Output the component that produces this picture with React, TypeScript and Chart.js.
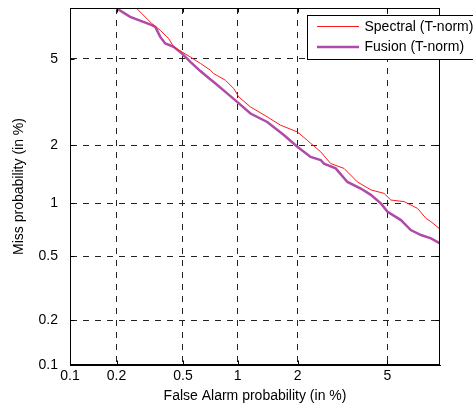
import React, { useEffect, useRef } from 'react';
import { Chart, registerables, Scale } from 'chart.js';

// ---- data (percent) ----
const TICK_VALUES = [0.1, 0.2, 0.5, 1, 2, 5];
const AXIS_MIN = 0.1;
const AXIS_MAX = 8;

const spectralFA = [0.26, 0.267, 0.329, 0.369, 0.413, 0.442, 0.494, 0.551, 0.627, 0.713, 0.743, 0.86, 0.953, 1.013, 1.166, 1.419, 1.653, 1.994, 2.225, 2.306, 2.567, 2.852, 3.271, 3.745, 4.27, 4.85, 5.165, 5.84, 6.59, 7.09, 7.41, 7.95, 8.2];
const spectralMiss = [8.1, 7.96, 6.96, 6.55, 6.07, 5.61, 5.34, 5.09, 4.78, 4.47, 4.32, 4.04, 3.71, 3.40, 3.06, 2.75, 2.51, 2.33, 2.12, 2.05, 1.86, 1.62, 1.53, 1.30, 1.18, 1.13, 1.04, 1.02, 0.936, 0.824, 0.789, 0.723, 0.71];

const fusionFA = [0.196, 0.201, 0.243, 0.329, 0.345, 0.369, 0.395, 0.442, 0.494, 0.551, 0.627, 0.70, 0.743, 0.86, 0.993, 1.166, 1.419, 1.716, 1.994, 2.306, 2.567, 2.658, 3.004, 3.387, 3.87, 4.27, 4.70, 5.01, 5.67, 6.20, 6.79, 7.41, 8.0, 8.2];
const fusionMiss = [8.1, 7.96, 7.40, 6.86, 6.75, 6.16, 5.79, 5.61, 5.26, 4.85, 4.43, 4.12, 3.97, 3.585, 3.23, 2.85, 2.60, 2.25, 1.97, 1.75, 1.69, 1.62, 1.53, 1.30, 1.20, 1.11, 0.997, 0.897, 0.806, 0.708, 0.663, 0.634, 0.593, 0.58];

const SERIES_LABELS = ['Spectral (T-norm)', 'Fusion (T-norm)'];
const X_TITLE = 'False Alarm probability (in %)';
const Y_TITLE = 'Miss probability (in %)';

const FONT = '"Liberation Sans", Arial, sans-serif';
const FONT_SIZE = 14;

// ---- normal deviate helpers for the DET (probit) scale ----
function normInv(p: number): number {
  const a = [-3.969683028665376e1, 2.209460984245205e2, -2.759285104469687e2, 1.38357751867269e2, -3.066479806614716e1, 2.506628277459239];
  const b = [-5.447609879822406e1, 1.615858368580409e2, -1.556989798598866e2, 6.680131188771972e1, -1.328068155288572e1];
  const c = [-7.784894002430293e-3, -3.223964580411365e-1, -2.400758277161838, -2.549732539343734, 4.374664141464968, 2.938163982698783];
  const d = [7.784695709041462e-3, 3.224671290700398e-1, 2.445134137142996, 3.754408661907416];
  const plow = 0.02425;
  if (p <= 0) return -8;
  if (p >= 1) return 8;
  if (p < plow) {
    const q = Math.sqrt(-2 * Math.log(p));
    return (((((c[0] * q + c[1]) * q + c[2]) * q + c[3]) * q + c[4]) * q + c[5]) / ((((d[0] * q + d[1]) * q + d[2]) * q + d[3]) * q + 1);
  }
  if (p <= 1 - plow) {
    const q = p - 0.5;
    const r = q * q;
    return ((((((a[0] * r + a[1]) * r + a[2]) * r + a[3]) * r + a[4]) * r + a[5]) * q) / (((((b[0] * r + b[1]) * r + b[2]) * r + b[3]) * r + b[4]) * r + 1);
  }
  const q = Math.sqrt(-2 * Math.log(1 - p));
  return -(((((c[0] * q + c[1]) * q + c[2]) * q + c[3]) * q + c[4]) * q + c[5]) / ((((d[0] * q + d[1]) * q + d[2]) * q + d[3]) * q + 1);
}

function normCdf(z: number): number {
  const t = 1 / (1 + 0.3275911 * Math.abs(z) / Math.SQRT2);
  const y = 1 - (((((1.061405429 * t - 1.453152027) * t + 1.421413741) * t - 0.284496736) * t + 0.254829592) * t) * Math.exp(-(z * z) / 2);
  return z >= 0 ? 0.5 * (1 + y) : 0.5 * (1 - y);
}

class ProbitScale extends Scale {
  static id = 'probit';
  static defaults = {};
  _startValue: number = 0;
  _valueRange: number = 1;

  parse(raw: any) {
    const v = Number(raw);
    return isFinite(v) ? v : null;
  }

  determineDataLimits() {
    const { min, max } = (this as any).getMinMax(true);
    const o: any = this.options;
    (this as any).min = o.min != null ? o.min : min;
    (this as any).max = o.max != null ? o.max : max;
  }

  buildTicks() {
    const self: any = this;
    return TICK_VALUES.filter((v) => v >= self.min && v <= self.max).map((v) => ({ value: v }));
  }

  getLabelForValue(v: number) {
    return String(v);
  }

  configure() {
    super.configure();
    const self: any = this;
    this._startValue = normInv(self.min / 100);
    this._valueRange = normInv(self.max / 100) - this._startValue;
  }

  getPixelForValue(v: number) {
    if (v == null || isNaN(v) || v <= 0) return NaN;
    return (this as any).getPixelForDecimal((normInv(v / 100) - this._startValue) / this._valueRange);
  }

  getValueForPixel(px: number) {
    const dec = (this as any).getDecimalForPixel(px);
    return 100 * normCdf(this._startValue + dec * this._valueRange);
  }
}

Chart.register(...registerables, ProbitScale as any);

const framePlugin = {
  id: 'detFrameLegend',
  afterDraw(chart: any) {
    const ctx = chart.ctx;
    const a = chart.chartArea;
    ctx.save();
    ctx.setLineDash([]);
    ctx.strokeStyle = '#000';
    ctx.lineWidth = 1;
    const L = Math.round(a.left) + 0.5;
    const T = Math.round(a.top) + 0.5;
    const R = Math.round(a.right) - 0.5;
    const B = Math.round(a.bottom) - 0.5;
    ctx.strokeRect(L, T, R - L, B - T);
    const xs = chart.scales.x;
    const ys = chart.scales.y;
    ctx.beginPath();
    for (const v of TICK_VALUES) {
      const px = Math.round(xs.getPixelForValue(v)) + 0.5;
      ctx.moveTo(px, B);
      ctx.lineTo(px, B - 4);
      ctx.moveTo(px, T);
      ctx.lineTo(px, T + 4);
      const py = Math.round(ys.getPixelForValue(v)) + 0.5;
      ctx.moveTo(L, py);
      ctx.lineTo(L + 4, py);
      ctx.moveTo(R, py);
      ctx.lineTo(R - 4, py);
    }
    ctx.stroke();

    // legend box (MATLAB style, top-right, overlapping the frame)
    const bx = 307.5, by = 15.5, bw = 190, bh = 44;
    ctx.fillStyle = '#fff';
    ctx.fillRect(bx, by, bw, bh);
    ctx.strokeRect(bx, by, bw, bh);
    chart.data.datasets.forEach((ds: any, i: number) => {
      const y = 26.5 + i * 20.5;
      ctx.strokeStyle = ds.borderColor;
      ctx.lineWidth = ds.borderWidth;
      ctx.beginPath();
      ctx.moveTo(317, y);
      ctx.lineTo(359, y);
      ctx.stroke();
      ctx.fillStyle = '#000';
      ctx.font = FONT_SIZE + 'px ' + FONT;
      ctx.textBaseline = 'middle';
      ctx.textAlign = 'left';
      ctx.fillText(ds.label, 364.5, y + 0.5);
    });
    ctx.restore();
  },
};

export default function App() {
  const ref = useRef<HTMLCanvasElement | null>(null);
  useEffect(() => {
    if (!ref.current) return;
    const toPts = (xs: number[], ys: number[]) => xs.map((x, i) => ({ x, y: ys[i] }));
    const axisCommon = (title: string, titlePad: number, tickPad: number, size: number) => ({
      type: 'probit',
      min: AXIS_MIN,
      max: AXIS_MAX,
      grid: { color: '#222', lineWidth: 1, drawTicks: false },
      border: { display: true, color: '#000', width: 1, dash: [6, 6] },
      ticks: {
        color: '#000',
        font: { family: FONT, size: FONT_SIZE },
        padding: tickPad,
        autoSkip: false,
        maxRotation: 0,
        callback: (v: any) => String(v),
      },
      title: {
        display: true,
        text: title,
        color: '#000',
        font: { family: FONT, size: FONT_SIZE },
        padding: { top: titlePad, bottom: 0 },
      },
      afterFit: (s: any) => {
        if (s.isHorizontal()) s.height = size;
        else s.width = size;
        s.paddingTop = 0;
        s.paddingBottom = 0;
        s.paddingLeft = 0;
        s.paddingRight = 0;
      },
    });
    const chart = new Chart(ref.current, {
      type: 'line',
      data: {
        datasets: [
          {
            label: SERIES_LABELS[0],
            data: toPts(spectralFA, spectralMiss),
            borderColor: '#ff1a1a',
            borderWidth: 1,
            pointRadius: 0,
            fill: false,
            tension: 0,
            clip: 0,
          },
          {
            label: SERIES_LABELS[1],
            data: toPts(fusionFA, fusionMiss),
            borderColor: '#b04aa8',
            borderWidth: 2.5,
            pointRadius: 0,
            fill: false,
            tension: 0,
            clip: 0,
          },
        ],
      },
      options: {
        animation: false,
        responsive: false,
        parsing: { xAxisKey: 'x', yAxisKey: 'y' },
        layout: { padding: { left: 0, top: 8, right: 33, bottom: 0 } },
        plugins: { legend: { display: false }, tooltip: { enabled: false } },
        scales: {
          x: { ...axisCommon(X_TITLE, 2, 3, 40), position: 'bottom' },
          y: { ...axisCommon(Y_TITLE, 11, 12, 70), position: 'left' },
        } as any,
      } as any,
      plugins: [framePlugin],
    } as any);
    return () => chart.destroy();
  }, []);
  return (
    <div style={{ position: 'absolute', left: 0, top: 0, width: 473, height: 405, background: '#fff' }}>
      <canvas ref={ref} width={473} height={405} style={{ display: 'block' }} />
    </div>
  );
}
